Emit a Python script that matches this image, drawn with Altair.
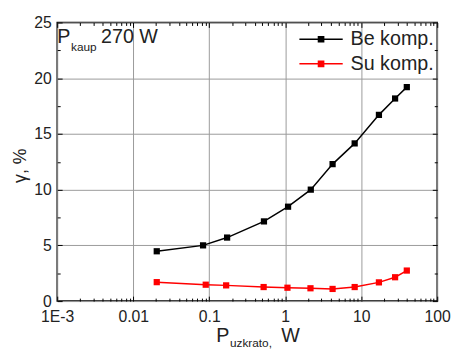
import altair as alt
import pandas as pd

# ---- data ----
be_x = [0.0204, 0.083, 0.172, 0.525, 1.09, 2.17, 4.2, 8.2, 17.1, 27.9, 39.8]
be_y = [4.47, 5.0, 5.70, 7.15, 8.47, 10.0, 12.29, 14.15, 16.71, 18.18, 19.2]
su_x = [0.0204, 0.090, 0.167, 0.52, 1.07, 2.15, 4.2, 8.2, 17.1, 27.9, 39.8]
su_y = [1.70, 1.47, 1.41, 1.26, 1.20, 1.15, 1.09, 1.26, 1.68, 2.14, 2.74]
series_names = ["Be komp.", "Su komp."]
series_colors = ["#000000", "#ff0000"]

x_major = [0.001, 0.01, 0.1, 1, 10, 100]
x_labels = ["1E-3", "0.01", "0.1", "1", "10", "100"]
x_minor = [m * 10 ** e for e in range(-3, 2) for m in range(2, 10)]
y_major = [0, 5, 10, 15, 20, 25]
y_minor = [2.5, 7.5, 12.5, 17.5, 22.5]

FONT = "Liberation Sans"
TXT = "#222222"

df = pd.DataFrame({
    "x": be_x + su_x,
    "y": be_y + su_y,
    "series": [series_names[0]] * len(be_x) + [series_names[1]] * len(su_x),
})

label_expr = " : ".join(
    f"datum.value < {v * 3.16} ? '{lab}'" for v, lab in zip(x_major[:-1], x_labels[:-1])
) + f" : '{x_labels[-1]}'"

xs = alt.Scale(type="log", domain=[0.001, 100], nice=False)
ys = alt.Scale(domain=[0, 25], nice=False)


def axis(orient, values, size, labels=False, grid=False, **kw):
    return alt.Axis(orient=orient, values=values, tickSize=size, offset=-size,
                    domain=False, grid=grid, labels=labels, tickColor="black",
                    tickWidth=1, labelFlush=False, gridColor="#9a9a9a", gridWidth=1,
                    labelFont=FONT, labelFontSize=16, labelColor=TXT, **kw)


ax_b_major = axis("bottom", x_major, 5, labels=True, grid=True, labelExpr=label_expr,
                  labelPadding=8, title=None, labelOverlap=False)
ax_t_major = axis("top", x_major, 5, title=None)
ax_b_minor = axis("bottom", x_minor, 3, title=None)
ax_t_minor = axis("top", x_minor, 3, title=None)

ay_l_major = axis("left", y_major, 5, labels=True, grid=True, labelPadding=6,
                  title="γ, %", titleFont=FONT, titleFontSize=18, titleFontWeight="normal",
                  titleColor=TXT, titlePadding=4, titleY=145)
ay_r_major = axis("right", y_major, 5, title=None)
ay_l_minor = axis("left", y_minor, 3, title=None)
ay_r_minor = axis("right", y_minor, 3, title=None)

legend = alt.Legend(
    title=None, orient="none", legendX=245, legendY=7, padding=0, rowPadding=5,
    clipHeight=20, symbolType="M-1,0H1M-0.12,-0.12H0.12V0.12H-0.12Z", symbolSize=1936,
    symbolStrokeWidth=1.5, labelFont=FONT, labelFontSize=20, labelColor=TXT,
    labelOffset=7, labelLimit=0,
)
color = alt.Color("series:N", scale=alt.Scale(domain=series_names, range=series_colors),
                  legend=legend)

base = alt.Chart(df)
line = base.mark_line(strokeWidth=1.5).encode(
    x=alt.X("x:Q", scale=xs, axis=ax_b_major),
    y=alt.Y("y:Q", scale=ys, axis=ay_l_major),
    color=color,
)
points = base.mark_point(shape="square", filled=True, size=40, opacity=1).encode(
    x=alt.X("x:Q", scale=xs, axis=ax_t_major),
    y=alt.Y("y:Q", scale=ys, axis=ay_r_major),
    color=color,
)
ghost1 = base.mark_point(opacity=0).encode(
    x=alt.X("x:Q", scale=xs, axis=ax_b_minor),
    y=alt.Y("y:Q", scale=ys, axis=ay_l_minor),
)
ghost2 = base.mark_point(opacity=0).encode(
    x=alt.X("x:Q", scale=xs, axis=ax_t_minor),
    y=alt.Y("y:Q", scale=ys, axis=ay_r_minor),
)


def label(txt, x, y, size):
    return alt.Chart(pd.DataFrame({"t": [txt]})).mark_text(
        align="left", baseline="alphabetic", font=FONT, fontSize=size, color=TXT
    ).encode(text="t:N", x=alt.value(x), y=alt.value(y))


texts = [
    label("P", 0, 21, 20),
    label("kaup", 14, 28.5, 12),
    label("270 W", 44.5, 21, 20),
    label("P", 161.5, 324.5, 20),
    label("uzkrato,", 175.5, 329.5, 12),
    label("W", 227.5, 324.5, 20),
]

chart = alt.layer(line, points, ghost1, ghost2, *texts).resolve_axis(
    x="independent", y="independent"
).properties(
    width=386, height=283,
    autosize=alt.AutoSizeParams(type="none"),
    padding={"left": 50, "top": 12, "right": 14, "bottom": 49},
).configure_view(stroke="black", strokeWidth=1.5)

chart.save("out.html", embed_options={"renderer": "svg", "actions": False})
